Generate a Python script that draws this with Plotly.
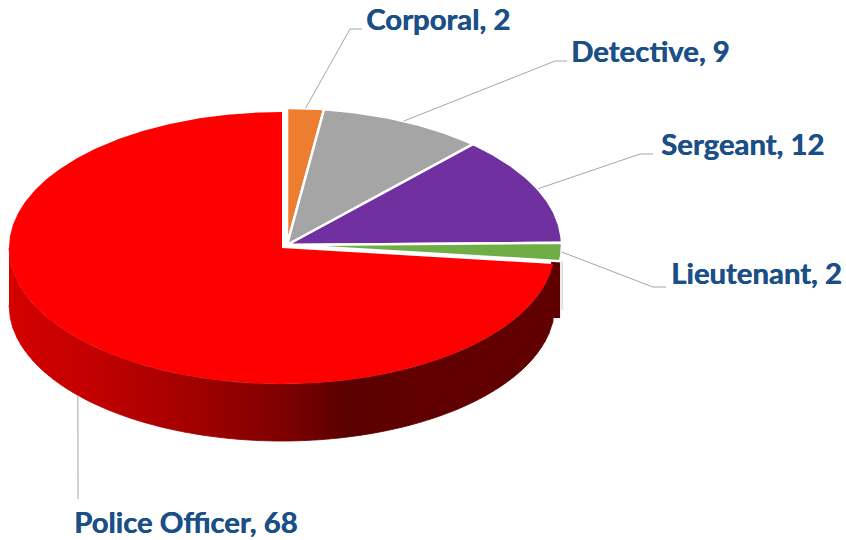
import numpy as np
import plotly.graph_objects as go

labels = ["Corporal", "Detective", "Sergeant", "Lieutenant", "Police Officer"]
values = [2, 9, 12, 2, 68]
colors = ["#ED7D31", "#A5A5A5", "#7030A0", "#70AD47", "#FF0000"]
text_color = "#1B4F87"
leader_color = "#A6A6A6"

# geometry of the tilted pie, in page pixels
W, H = 846, 540
CX, CY, RX, RY = 287, 245, 275, 137          # small slices
BX, BY, BRX, BRY = 282, 248, 273, 136        # pulled-out large slice
DEPTH = 57

# label placement: left edge, middle y, elbow x, elbow y, end x, end y
placement = {
    "Corporal": (364, 18, 350, 29, 362, 29),
    "Detective": (569, 50, 555, 61, 567, 61),
    "Sergeant": (659, 143, 640, 154, 653, 154),
    "Lieutenant": (669, 272, 653, 287, 666, 287),
    "Police Officer": (72, 521.5, 78, 499, 78, 499),
}
shade_x = [9, 100, 200, 280, 350, 400, 553]
shade_r = [214, 192, 160, 128, 90, 96, 96]

total = sum(values)
edges = np.concatenate([[0], np.cumsum(values)]) / total * 2 * np.pi


def wedge(cx, cy, rx, ry, a, b):
    t = np.linspace(a, b, max(8, int((b - a) * 90)))
    return (np.r_[cx, cx + rx * np.sin(t), cx],
            np.r_[cy, cy - ry * np.cos(t), cy])


fig = go.Figure()


def poly(x, y, fill, line=None, width=0):
    fig.add_trace(go.Scatter(
        x=x, y=y, mode="lines", fill="toself", fillcolor=fill,
        line=dict(color=line or fill, width=width), hoverinfo="skip",
        showlegend=False))


def stroke(x, y, color, width):
    fig.add_trace(go.Scatter(x=x, y=y, mode="lines",
                             line=dict(color=color, width=width),
                             hoverinfo="skip", showlegend=False))


# rim of the large slice: vertical colour bands
step = 4
for x0 in np.arange(shade_x[0], shade_x[-1], step):
    x1 = min(x0 + step, shade_x[-1])
    xs = np.linspace(x0, x1, 4)
    u = np.clip((xs - BX) / BRX, -1, 1)
    top = BY + BRY * np.sqrt(1 - u ** 2)
    r = int(np.interp(x0 + step / 2, shade_x, shade_r))
    c = f"rgb({r},0,0)"
    poly(np.r_[xs, xs[::-1]], np.r_[top, (top + DEPTH)[::-1]], c, c, 0.8)

# rim seen behind the small green slice
a_lt = edges[4]
lx = CX + RX * np.sin(a_lt)
ly = CY - RY * np.cos(a_lt)
bx = BX + BRX * np.sin(a_lt)
by = BY - BRY * np.cos(a_lt)
poly([bx - 2, lx, lx, bx - 2], [ly, ly, by + DEPTH - 3, by + DEPTH - 3], "rgb(94,0,0)")
stroke([lx + 2, lx + 2], [ly, by + DEPTH - 11], "#C4C4C4", 1)

# top faces
xb, yb = wedge(BX, BY, BRX, BRY, edges[4], edges[5])
poly(xb, yb, colors[4])
for i in range(4):
    xw, yw = wedge(CX, CY, RX, RY, edges[i], edges[i + 1])
    poly(xw, yw, colors[i], "#FFFFFF", 2.5)

# labels and leader lines
for i, name in enumerate(labels):
    left, mid, ex, ey, ox, oy = placement[name]
    m = (edges[i] + edges[i + 1]) / 2
    if name == "Police Officer":
        sx = BX + BRX * np.sin(m)
        sy = BY - BRY * np.cos(m) + DEPTH
    else:
        sx = CX + RX * np.sin(m)
        sy = CY - RY * np.cos(m)
    stroke([sx, ex, ox], [sy, ey, oy], leader_color, 1)
    fig.add_annotation(x=left, y=mid, xanchor="left", yanchor="middle",
                       text=f"<b>{name}, {values[i]}</b>", showarrow=False,
                       font=dict(family="Lato", size=29.3, color=text_color,
                                 shadow=f"0.5px 0 0 {text_color}"))

axis = dict(visible=False, fixedrange=True, showgrid=False, zeroline=False)
fig.update_layout(
    width=W, height=H, autosize=False,
    margin=dict(l=0, r=0, t=0, b=0),
    paper_bgcolor="#FFFFFF", plot_bgcolor="#FFFFFF",
    xaxis=dict(range=[0, W], **axis),
    yaxis=dict(range=[H, 0], **axis),
    showlegend=False,
)
fig.write_html("out.html", config={"displayModeBar": False},
               post_script="document.body.style.margin='0';document.body.style.overflow='hidden';")
